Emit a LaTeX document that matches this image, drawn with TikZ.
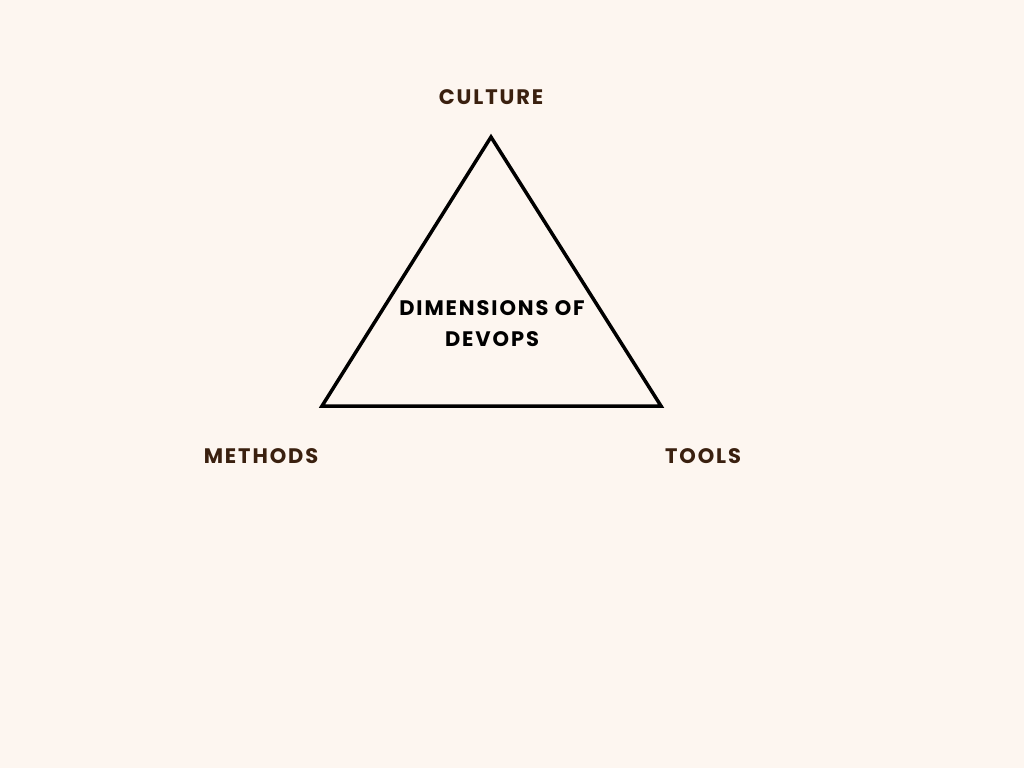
\documentclass[tikz,border=0pt]{standalone}
\usepackage{fontspec}
\setmainfont{Poppins}[BoldFont={* Bold},BoldFeatures={LetterSpace=9}]
\usetikzlibrary{positioning}
\definecolor{paper}{HTML}{FDF6F0}
\definecolor{bark}{HTML}{3A200F}

\begin{document}
\begin{tikzpicture}[x=1pt,y=-1pt,line width=3.5pt,
	corner/.style={font=\fontsize{21}{24}\selectfont\bfseries,text=bark,inner sep=0pt},
	centre/.style={font=\fontsize{21}{31}\selectfont\bfseries,text=black,align=center,inner sep=0pt}]
\fill[paper] (0,0) rectangle (1024,768);
\useasboundingbox (0,0) rectangle (1024,768);

\coordinate(top) at (491,137);
\coordinate(left) at (322,406);
\coordinate(right) at (661,406);

%triangle
\draw [line join=miter](top)--(left)--(right)--cycle;

%labels
\node[centre] (dim) at (492,324) {DIMENSIONS OF\\DEVOPS};
\node[corner] (culture) at (491,97) {CULTURE};
\node[corner] (methods) at (261,456) {METHODS};
\node[corner] (tools) at (703,456) {TOOLS};

\end{tikzpicture}
\end{document}
